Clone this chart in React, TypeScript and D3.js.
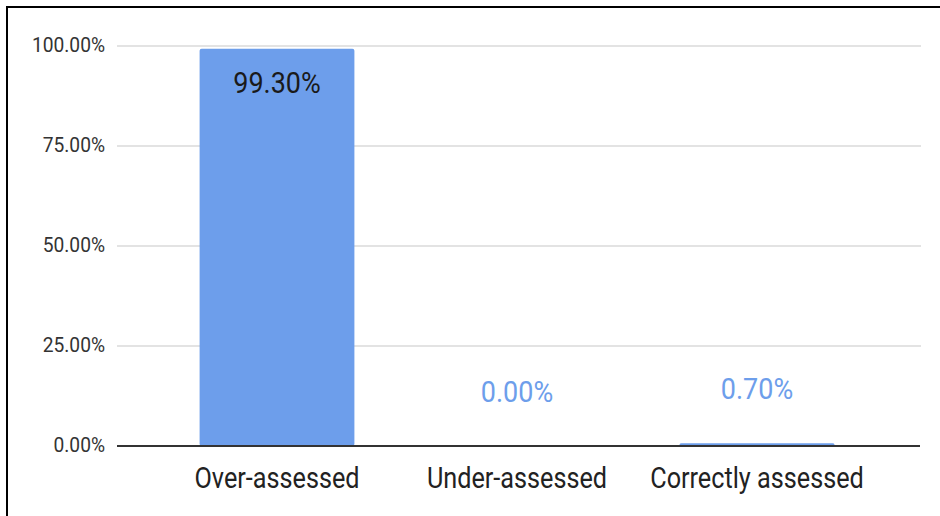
import React, { useEffect, useRef } from 'react';
import * as d3 from 'd3';

// share of cases per assessment outcome, in percent
const categories = ['Over-assessed', 'Under-assessed', 'Correctly assessed'];
const shares = [99.3, 0, 0.7];
const yTicks = [0, 25, 50, 75, 100];

const W = 940;
const H = 516;

export default function App() {
  const ref = useRef<SVGSVGElement | null>(null);

  useEffect(() => {
    const svg = d3.select(ref.current);
    svg.selectAll('*').remove();

    const plotLeft = 117, plotRight = 921;
    const y = d3.scaleLinear().domain([0, 100]).range([446, 46]);
    const x = d3.scaleBand<string>()
      .domain(categories)
      .range([157, 877])
      .paddingInner(0.355)
      .paddingOuter(0.1775);

    // frame around the chart (only top/left visible in the crop)
    svg.append('rect')
      .attr('x', 7).attr('y', 7)
      .attr('width', W + 20).attr('height', H + 20)
      .attr('fill', '#fff')
      .attr('stroke', '#000')
      .attr('stroke-width', 2);

    // gridlines + y tick labels
    const grid = svg.append('g');
    grid.selectAll('line')
      .data(yTicks.filter(d => d > 0))
      .enter().append('line')
      .attr('x1', plotLeft).attr('x2', plotRight)
      .attr('y1', d => y(d)).attr('y2', d => y(d))
      .attr('stroke', '#dadada')
      .attr('stroke-width', 1.6);

    const fmt = d3.format('.2f');
    grid.selectAll('text')
      .data(yTicks)
      .enter().append('text')
      .attr('transform', d => `translate(105,${y(d) + 6}) scale(0.96,1)`)
      .attr('text-anchor', 'end')
      .attr('font-family', 'Roboto, sans-serif')
      .attr('font-size', 20)
      .attr('fill', '#333')
      .text(d => fmt(d) + '%');

    // bars
    const data = categories.map((c, i) => ({ cat: c, v: shares[i] }));
    svg.append('g').selectAll('rect')
      .data(data.filter(d => d.v > 0))
      .enter().append('rect')
      .attr('x', d => x(d.cat)!)
      .attr('y', d => y(d.v))
      .attr('width', x.bandwidth())
      .attr('height', d => y(0) - y(d.v))
      .attr('rx', 2)
      .attr('fill', '#6d9eeb');

    // baseline
    svg.append('line')
      .attr('x1', plotLeft).attr('x2', plotRight - 1)
      .attr('y1', y(0)).attr('y2', y(0))
      .attr('stroke', '#333')
      .attr('stroke-width', 2);

    // value labels: inside for tall bars, above in blue otherwise
    svg.append('g').selectAll('text')
      .data(data)
      .enter().append('text')
      .attr('transform', d => {
        const cx = x(d.cat)! + x.bandwidth() / 2;
        const by = d.v > 20 ? y(d.v) + 44 : y(d.v) - 44;
        return `translate(${cx},${by}) scale(0.93,1)`;
      })
      .attr('text-anchor', 'middle')
      .attr('font-family', 'Roboto, sans-serif')
      .attr('font-size', 29)
      .attr('fill', d => (d.v > 20 ? '#1a1a1a' : '#6d9eeb'))
      .text(d => fmt(d.v) + '%');

    // category labels
    svg.append('g').selectAll('text')
      .data(categories)
      .enter().append('text')
      .attr('transform', d => `translate(${x(d)! + x.bandwidth() / 2},488) scale(0.87,1)`)
      .attr('text-anchor', 'middle')
      .attr('font-family', 'Roboto, sans-serif')
      .attr('font-size', 29)
      .attr('fill', '#222')
      .text(d => d);
  }, []);

  return (
    <svg
      ref={ref}
      width={W}
      height={H}
      style={{ position: 'absolute', left: 0, top: 0, background: '#fff' }}
    />
  );
}
